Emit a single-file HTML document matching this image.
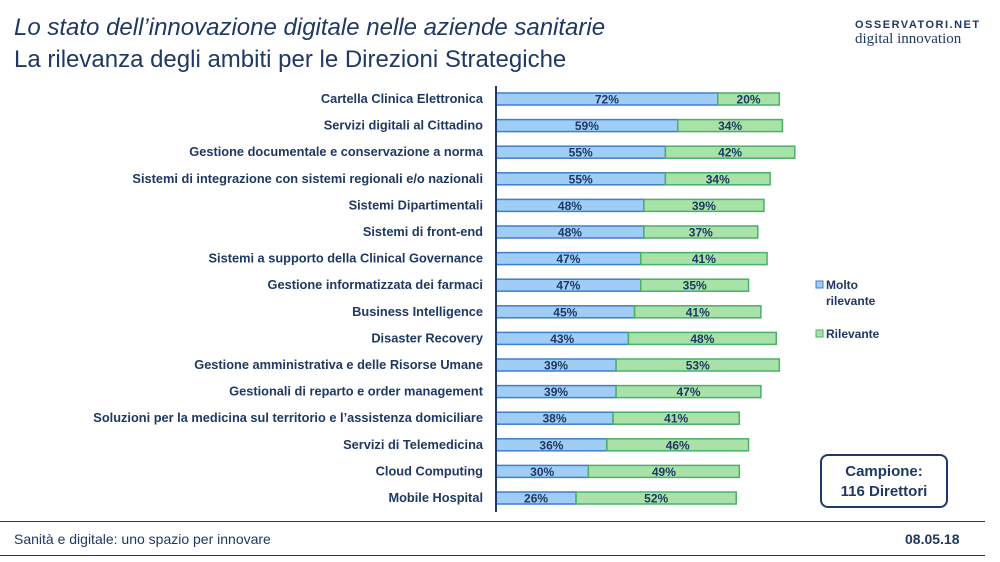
<!DOCTYPE html>
<html><head><meta charset="utf-8"><style>
body{margin:0;width:1000px;height:562px;background:#fff;font-family:"Liberation Sans",sans-serif;overflow:hidden;position:relative}
.t1{position:absolute;left:14px;top:14px;font-size:24px;font-style:italic;color:#1f3864}
.t2{position:absolute;left:14px;top:46px;font-size:24px;color:#1f3864}
.logo{position:absolute;left:855px;top:18px;color:#1f3864;line-height:14px}
.foot{position:absolute;top:531px;font-size:14px;color:#1f3864}
</style></head><body>
<div class="t1">Lo stato dell’innovazione digitale nelle aziende sanitarie</div>
<div class="t2">La rilevanza degli ambiti per le Direzioni Strategiche</div>
<div class="logo"><div style="font-size:11px;letter-spacing:1.5px;font-weight:bold">OSSERVATORI.NET</div><div style="font-family:'Liberation Serif',serif;font-size:15px">digital innovation</div></div>
<svg id="chart" width="1000" height="562" style="position:absolute;left:0;top:0"></svg>
<div style="position:absolute;left:0;top:521px;width:985px;border-top:1px solid #1f3864"></div>
<div class="foot" style="left:14px">Sanità e digitale: uno spazio per innovare</div>
<div class="foot" style="left:905px;font-weight:bold">08.05.18</div>
<div style="position:absolute;left:0;top:555px;width:985px;border-top:1px solid #1f3864"></div>
<div style="position:absolute;left:820px;top:454px;width:128px;height:54px;border:2px solid #1f3864;border-radius:8px;box-sizing:border-box;text-align:center;font-weight:bold;font-size:15px;color:#1f3864;line-height:20px;padding-top:6px">Campione:<br>116 Direttori</div>
<script>
const categories=["Cartella Clinica Elettronica","Servizi digitali al Cittadino","Gestione documentale e conservazione a norma","Sistemi di integrazione con sistemi regionali e/o nazionali","Sistemi Dipartimentali","Sistemi di front-end","Sistemi a supporto della Clinical Governance","Gestione informatizzata dei farmaci","Business Intelligence","Disaster Recovery","Gestione amministrativa e delle Risorse Umane","Gestionali di reparto e order management","Soluzioni per la medicina sul territorio e l’assistenza domiciliare","Servizi di Telemedicina","Cloud Computing","Mobile Hospital"];
const molto=[72,59,55,55,48,48,47,47,45,43,39,39,38,36,30,26];
const rilevante=[20,34,42,34,39,37,41,35,41,48,53,47,41,46,49,52];
const svg=document.getElementById('chart');const NS='http://www.w3.org/2000/svg';
const x0=496,k=3.08,y0=99,step=26.6,bh=12;
const X=v=>x0+v*k, Y=i=>y0+i*step;
function mk(t,a,name){const e=document.createElementNS(NS,t);for(const n in a)e.setAttribute(n,a[n]);


svg.appendChild(e);return e;}
categories.forEach((c,i)=>{
 const y=Y(i);
 const l=mk('text',{x:483,y:y+4,'text-anchor':'end','font-size':12.8,fill:'#1f3864','font-weight':'600'},'category-label');l.textContent=c;
 mk('rect',{x:X(0),y:y-bh/2,width:X(molto[i])-X(0),height:bh,fill:'#9fcdf5',stroke:'#3f7fcf','stroke-width':1.5},'bar-molto');
 mk('rect',{x:X(molto[i]),y:y-bh/2,width:X(molto[i]+rilevante[i])-X(molto[i]),height:bh,fill:'#a8e2a8',stroke:'#4caf6a','stroke-width':1.5},'bar-rilevante');
 const a=mk('text',{x:(X(0)+X(molto[i]))/2,y:y+4.5,'text-anchor':'middle','font-size':12,'font-weight':'bold',fill:'#1f3864'},'value-molto');a.textContent=molto[i]+'%';
 const b=mk('text',{x:(X(molto[i])+X(molto[i]+rilevante[i]))/2,y:y+4.5,'text-anchor':'middle','font-size':12,'font-weight':'bold',fill:'#1f3864'},'value-rilevante');b.textContent=rilevante[i]+'%';
});
mk('line',{x1:x0,x2:x0,y1:86,y2:512,stroke:'#1f3864','stroke-width':2},'y-axis');
mk('rect',{x:816,y:281,width:7,height:7,fill:'#9fcdf5',stroke:'#3f7fcf'},'legend-molto-swatch');
let t=mk('text',{x:826,y:289,'font-size':12,'font-weight':'bold',fill:'#1f3864'},'legend-molto');t.textContent='Molto';
t=mk('text',{x:826,y:305,'font-size':12,'font-weight':'bold',fill:'#1f3864'},'legend-molto-2');t.textContent='rilevante';
mk('rect',{x:816,y:330,width:7,height:7,fill:'#a8e2a8',stroke:'#4caf6a'},'legend-rilevante-swatch');
t=mk('text',{x:826,y:338,'font-size':12,'font-weight':'bold',fill:'#1f3864'},'legend-rilevante');t.textContent='Rilevante';
</script>
</body></html>
